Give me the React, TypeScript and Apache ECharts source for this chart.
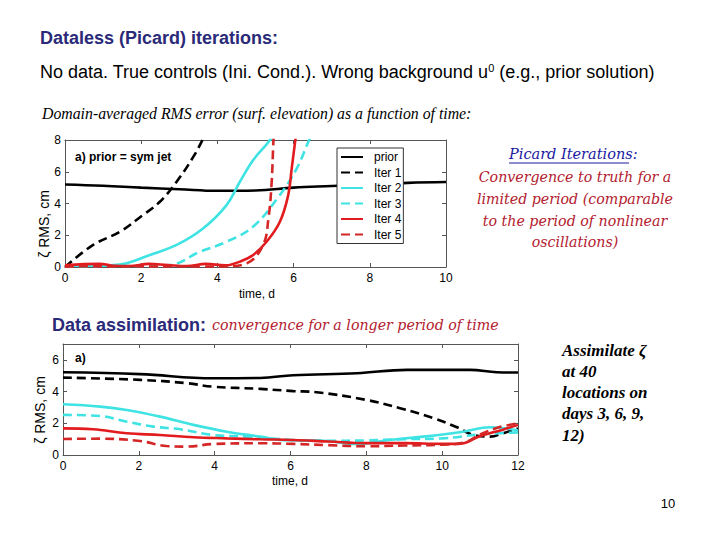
import { useEffect, useRef } from "react";
import * as echarts from "echarts";

type Pt = [number, number];

// Dataless (Picard) iterations: RMS error in cm against time in days
const picardPrior: Pt[] = [
  [0, 5.2], [1, 5.12], [2, 5.0], [3, 4.9], [4, 4.8], [5, 4.82], [6, 5.0],
  [7, 5.1], [8, 5.2], [9, 5.3], [10, 5.35],
];
const picardIter1: Pt[] = [
  [0, 0], [0.74, 1.39], [1.44, 2.22], [2.05, 3.28], [2.49, 4.11], [2.93, 5.37],
  [3.37, 6.95], [3.63, 8.1], [3.8, 9],
];
const picardIter2: Pt[] = [
  [0, 0.08], [0.6, 0.08], [1.2, 0.1], [1.62, 0.23], [2.23, 0.76], [2.93, 1.39],
  [3.63, 2.44], [4.24, 3.9], [4.59, 5.37], [4.94, 6.74], [5.38, 8.0], [5.6, 9],
];
const picardIter3: Pt[] = [
  [0, 0.05], [1, 0.06], [2, 0.06], [2.76, 0.13], [3.54, 0.96], [4.24, 1.59],
  [4.94, 2.55], [5.64, 4.54], [6.08, 6.2], [6.39, 7.9], [6.6, 9],
];
const picardIter4: Pt[] = [
  [0, 0.1], [0.5, 0.18], [0.9, 0.2], [1.3, 0.08], [1.7, 0.06], [2.2, 0.2],
  [2.7, 0.12], [3.2, 0.06], [3.7, 0.2], [4.2, 0.1], [4.59, 0.34], [4.94, 0.76],
  [5.29, 1.59], [5.64, 2.85], [5.86, 4.54], [5.95, 6.2], [6.04, 7.9], [6.1, 9],
];
const picardIter5: Pt[] = [
  [0, 0.02], [0.6, 0.05], [1.2, 0.03], [1.8, 0.05], [2.4, 0.03], [3, 0.05],
  [3.6, 0.03], [4.2, 0.04], [4.77, 0.23], [5.2, 1.39], [5.34, 3.07],
  [5.42, 5.17], [5.47, 7.9], [5.5, 9],
];

// Data assimilation: RMS error in cm against time in days
const daPrior: Pt[] = [
  [0, 5.22], [2.03, 5.1], [3.96, 4.84], [5.2, 4.86], [6.07, 5.03], [7.75, 5.16],
  [9.07, 5.37], [10.74, 5.37], [11.44, 5.22], [12, 5.2],
];
const daIter1: Pt[] = [
  [0, 4.88], [2.03, 4.74], [3.26, 4.53], [3.96, 4.31], [5.2, 4.17], [6.07, 4.03],
  [6.69, 3.96], [8.01, 3.47], [8.89, 2.95], [9.77, 2.32], [10.39, 1.75],
  [10.83, 1.26], [11.27, 1.16], [11.6, 1.37], [12, 1.68],
];
const daIter2: Pt[] = [
  [0, 3.2], [0.98, 3.05], [1.68, 2.84], [2.56, 2.42], [3.44, 1.9], [4.32, 1.47],
  [5.2, 1.16], [5.73, 0.95], [6.87, 0.9], [7.75, 0.69], [8.6, 0.95], [9.5, 1.16],
  [10.55, 1.47], [11.27, 1.75], [12, 1.55],
];
const daIter3: Pt[] = [
  [0, 2.53], [0.98, 2.46], [1.68, 2.1], [2.39, 1.79], [3.1, 1.62], [3.96, 1.26],
  [4.84, 1.16], [6.07, 0.95], [7, 0.9], [8, 0.92], [9, 1.0], [10, 1.05],
  [11, 1.3], [12, 1.43],
];
const daIter4: Pt[] = [
  [0, 1.68], [0.79, 1.62], [1.68, 1.37], [2.56, 1.26], [3.44, 1.12], [4.32, 1.05],
  [5.2, 0.99], [6.07, 0.95], [7, 0.85], [8, 0.75], [9, 0.75], [10, 0.7],
  [10.5, 0.72], [11, 1.2], [11.6, 1.6], [12, 1.9],
];
const daIter5: Pt[] = [
  [0, 1.01], [0.98, 1.03], [2.03, 0.88], [2.73, 0.57], [3.26, 0.53], [3.96, 0.69],
  [5.2, 0.74], [6.07, 0.7], [7, 0.62], [8, 0.55], [9, 0.6], [10, 0.65],
  [10.6, 0.8], [11, 1.3], [11.5, 1.75], [12, 2.0],
];

const seriesNames = ["prior", "Iter 1", "Iter 2", "Iter 3", "Iter 4", "Iter 5"];

const picardTicksX = [0, 2, 4, 6, 8, 10];
const daTicksX = [0, 2, 4, 6, 8, 10, 12];

const BLACK = "#000000";
const CYAN = "#3fe3e3";
const RED = "#e21b1f";
const DARKRED = "#d42626";
const NAVY = "#2a2a78";
const CRIMSON = "#b3202e";
const SANS = "'Liberation Sans', Arial, sans-serif";
const SERIF = "'Liberation Serif', 'Times New Roman', serif";
const WIDE_SERIF = "'DejaVu Serif', serif";

const styles = [
  { color: BLACK, type: "solid" },
  { color: BLACK, type: [9, 5] },
  { color: CYAN, type: "solid" },
  { color: CYAN, type: [9, 5] },
  { color: RED, type: "solid" },
  { color: DARKRED, type: [9, 5] },
];

function makeSeries(data: Pt[][], axisIndex: number) {
  return data.map((d, i) => ({
    type: "line",
    name: seriesNames[i],
    xAxisIndex: axisIndex,
    yAxisIndex: axisIndex,
    data: d,
    showSymbol: false,
    symbol: "none",
    smooth: 0.4,
    clip: true,
    lineStyle: { color: styles[i].color, width: 2.6, type: styles[i].type },
    itemStyle: { color: styles[i].color },
    z: 2 + i,
  }));
}

function xAxes(grid: number, max: number, ticks: number[]) {
  const base = {
    type: "value",
    gridIndex: grid,
    min: 0,
    max,
    interval: ticks[1] - ticks[0],
    splitLine: { show: false },
    axisLine: { show: true, onZero: false, lineStyle: { color: "#555", width: 1 } },
    axisTick: { show: true, inside: true, length: 4, lineStyle: { color: "#555" } },
  };
  return [
    {
      ...base,
      position: "bottom",
      axisLabel: { show: true, color: "#000", fontFamily: SANS, fontSize: 12, margin: 5 },
    },
    { ...base, position: "top", axisLabel: { show: false } },
  ];
}

function yAxes(grid: number, max: number, ticks: number[]) {
  const base = {
    type: "value",
    gridIndex: grid,
    min: 0,
    max,
    interval: 2,
    splitLine: { show: false },
    axisLine: { show: true, onZero: false, lineStyle: { color: "#555", width: 1 } },
    axisTick: { show: true, inside: true, length: 4, lineStyle: { color: "#555" } },
  };
  return [
    {
      ...base,
      position: "left",
      axisLabel: {
        show: true,
        color: "#000",
        fontFamily: SANS,
        fontSize: 12,
        margin: 4,
        formatter: (v: number) => (ticks.includes(v) ? String(v) : ""),
      },
    },
    { ...base, position: "right", axisLabel: { show: false } },
  ];
}

function txt(
  x: number,
  y: number,
  text: string,
  font: string,
  fill: string,
  align = "left",
  extra: Record<string, unknown> = {}
) {
  return {
    type: "text",
    x,
    y,
    ...extra,
    style: { text, font, fill, align, verticalAlign: "middle" },
  };
}

export default function App() {
  const ref = useRef<HTMLDivElement>(null);

  useEffect(() => {
    if (!ref.current) return;
    const chart = echarts.init(ref.current, null, { renderer: "svg" });

    const picardX = xAxes(0, 10, picardTicksX);
    const daX = xAxes(1, 12, daTicksX);
    const picardY = yAxes(0, 8, [0, 2, 4, 6, 8]);
    const daY = yAxes(1, 7, [0, 2, 4, 6]);

    const redItalic = `italic 14.2px ${WIDE_SERIF}`;
    const boldNote = `bold italic 17px ${SERIF}`;

    chart.setOption({
      animation: false,
      backgroundColor: "#ffffff",
      grid: [
        { left: 65, top: 140, width: 381, height: 127, containLabel: false },
        { left: 63, top: 344, width: 455, height: 111, containLabel: false },
      ],
      // axes: 0 = picard bottom/left, 1 = picard top/right, 2 = DA bottom/left, 3 = DA top/right
      xAxis: [picardX[0], picardX[1], daX[0], daX[1]],
      yAxis: [picardY[0], picardY[1], daY[0], daY[1]],
      legend: {
        data: seriesNames,
        orient: "vertical",
        left: 337,
        top: 148,
        itemWidth: 22,
        itemHeight: 12,
        itemGap: 3.5,
        padding: [3, 2, 3, 3],
        backgroundColor: "#ffffff",
        borderColor: "#333",
        borderWidth: 1,
        borderRadius: 0,
        selectedMode: false,
        itemStyle: { opacity: 0 },
        textStyle: { color: "#000", fontFamily: SANS, fontSize: 12, padding: [0, 0, 0, 6] },
      },
      series: [
        ...makeSeries(
          [picardPrior, picardIter1, picardIter2, picardIter3, picardIter4, picardIter5],
          0
        ),
        ...makeSeries([daPrior, daIter1, daIter2, daIter3, daIter4, daIter5], 2),
      ],
      graphic: [
        txt(40, 38, "Dataless (Picard) iterations:", `bold 18px ${SANS}`, NAVY),
        {
          type: "text",
          x: 40,
          y: 62,
          style: {
            text: "No data. True controls (Ini. Cond.). Wrong background u{sup|0} (e.g., prior solution)",
            font: `18px ${SANS}`,
            fill: "#000",
            rich: {
              sup: { fontSize: 11, fontFamily: SANS, fill: "#000", verticalAlign: "top", lineHeight: 20 },
            },
            lineHeight: 20,
          },
        },
        txt(
          42,
          113,
          "Domain-averaged RMS error (surf. elevation) as a function of time:",
          `italic 15.8px ${SERIF}`,
          "#000"
        ),
        // picard panel annotations
        txt(75, 157, "a) prior = sym jet", `bold 12px ${SANS}`, "#000"),
        txt(257, 294, "time, d", `12px ${SANS}`, "#000", "center"),
        txt(44, 224, "ζ RMS, cm", `14px ${SANS}`, "#000", "center", { rotation: Math.PI / 2 }),
        // side note
        txt(509, 154, "Picard Iterations:", `italic 14.5px ${WIDE_SERIF}`, "#1a1aa0", "left"),
        {
          type: "line",
          shape: { x1: 509, y1: 163, x2: 629, y2: 163 },
          style: { stroke: "#1a1aa0", lineWidth: 1 },
        },
        txt(575, 177, "Convergence to truth for a", redItalic, CRIMSON, "center"),
        txt(575, 199, "limited period (comparable", redItalic, CRIMSON, "center"),
        txt(575, 221, "to the period of nonlinear", redItalic, CRIMSON, "center"),
        txt(575, 242, "oscillations)", redItalic, CRIMSON, "center"),
        // data assimilation panel
        txt(52, 325, "Data assimilation:", `bold 18px ${SANS}`, NAVY),
        txt(212, 325, "convergence for a longer period of time", redItalic, CRIMSON),
        txt(75, 358, "a)", `bold 12px ${SANS}`, "#000"),
        txt(290, 481, "time, d", `12px ${SANS}`, "#000", "center"),
        txt(40, 410, "ζ RMS, cm", `14px ${SANS}`, "#000", "center", { rotation: Math.PI / 2 }),
        txt(562, 350, "Assimilate ζ", boldNote, "#000"),
        txt(562, 371, "at 40", boldNote, "#000"),
        txt(562, 392, "locations on", boldNote, "#000"),
        txt(562, 413, "days 3, 6, 9,", boldNote, "#000"),
        txt(562, 435, "12)", boldNote, "#000"),
        txt(668, 503, "10", `13px ${SANS}`, "#000", "center"),
      ],
    });

    return () => chart.dispose();
  }, []);

  return (
    <div
      ref={ref}
      style={{ position: "fixed", left: 0, top: 0, width: 720, height: 540, background: "#fff" }}
    />
  );
}
